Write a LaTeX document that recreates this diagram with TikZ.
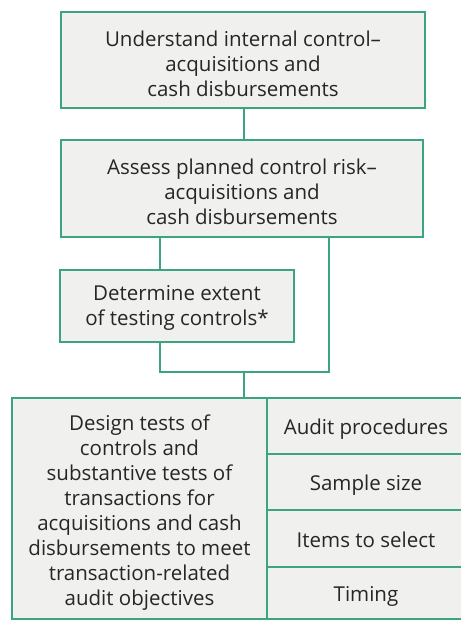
\documentclass[tikz,border=0pt]{standalone}
\usepackage{fontspec}
\setmainfont{Open Sans}
\definecolor{boxgreen}{HTML}{3AA57F}
\definecolor{boxfill}{HTML}{F0F0EE}
\begin{document}
\begin{tikzpicture}[x=1pt,y=-1pt,
  box/.style={draw=boxgreen, line width=1.8pt, fill=boxfill, rectangle, inner sep=0pt},
  txt/.style={inner sep=0pt, align=center, font=\fontsize{20.5}{25}\selectfont, text=black!85},
  conn/.style={draw=boxgreen, line width=1.8pt}]
\useasboundingbox (0,0) rectangle (461,622);
\node[box, minimum width=364pt, minimum height=96pt] (b1) at (243,60) {};
\node[txt] (t1) at ([yshift=-4pt]b1.center)
  {Understand internal control--\\acquisitions and\\cash disbursements};
\node[box, minimum width=362pt, minimum height=97pt] (b2) at (242,188.5) {};
\node[txt] (t2) at ([yshift=-3pt]b2.center)
  {Assess planned control risk--\\acquisitions and\\cash disbursements};
\node[box, minimum width=234pt, minimum height=72pt] (b3) at (177,306) {};
\node[txt] (t3) at ([yshift=-1.5pt]b3.center)
  {Determine extent\\of testing controls*};
\node[box, minimum width=255pt, minimum height=221pt] (d) at (139.5,508.5) {};
\node[txt] (td) at ([yshift=-4.5pt]d.center)
  {Design tests of\\controls and\\substantive tests of\\transactions for\\acquisitions and cash\\disbursements to meet\\transaction-related\\audit objectives};
\node[box, minimum width=198pt, minimum height=56pt] (r1) at (366,426) {};
\node[txt] (tr1) at ([yshift=-3pt]r1.center) {Audit procedures};
\node[box, minimum width=198pt, minimum height=56pt] (r2) at (366,482) {};
\node[txt] (tr2) at ([yshift=-3pt]r2.center) {Sample size};
\node[box, minimum width=198pt, minimum height=57pt] (r3) at (366,538.5) {};
\node[txt] (tr3) at ([yshift=-1.5pt]r3.center) {Items to select};
\node[box, minimum width=198pt, minimum height=52pt] (r4) at (366,593) {};
\node[txt] (tr4) at ([yshift=-3.5pt]r4.center) {Timing};
\coordinate (jl) at (160,372);
\coordinate (jr) at (329,372);
\coordinate (jm) at (244,372);
\draw[conn] (b1.south -| jm) -- (b2.north -| jm);
\draw[conn] (b2.south -| jl) -- (b3.north -| jl);
\draw[conn] (b3.south -| jl) -- (jl) -- (jr) -- (b2.south -| jr);
\draw[conn] (jm) -- (d.north -| jm);
\end{tikzpicture}
\end{document}
